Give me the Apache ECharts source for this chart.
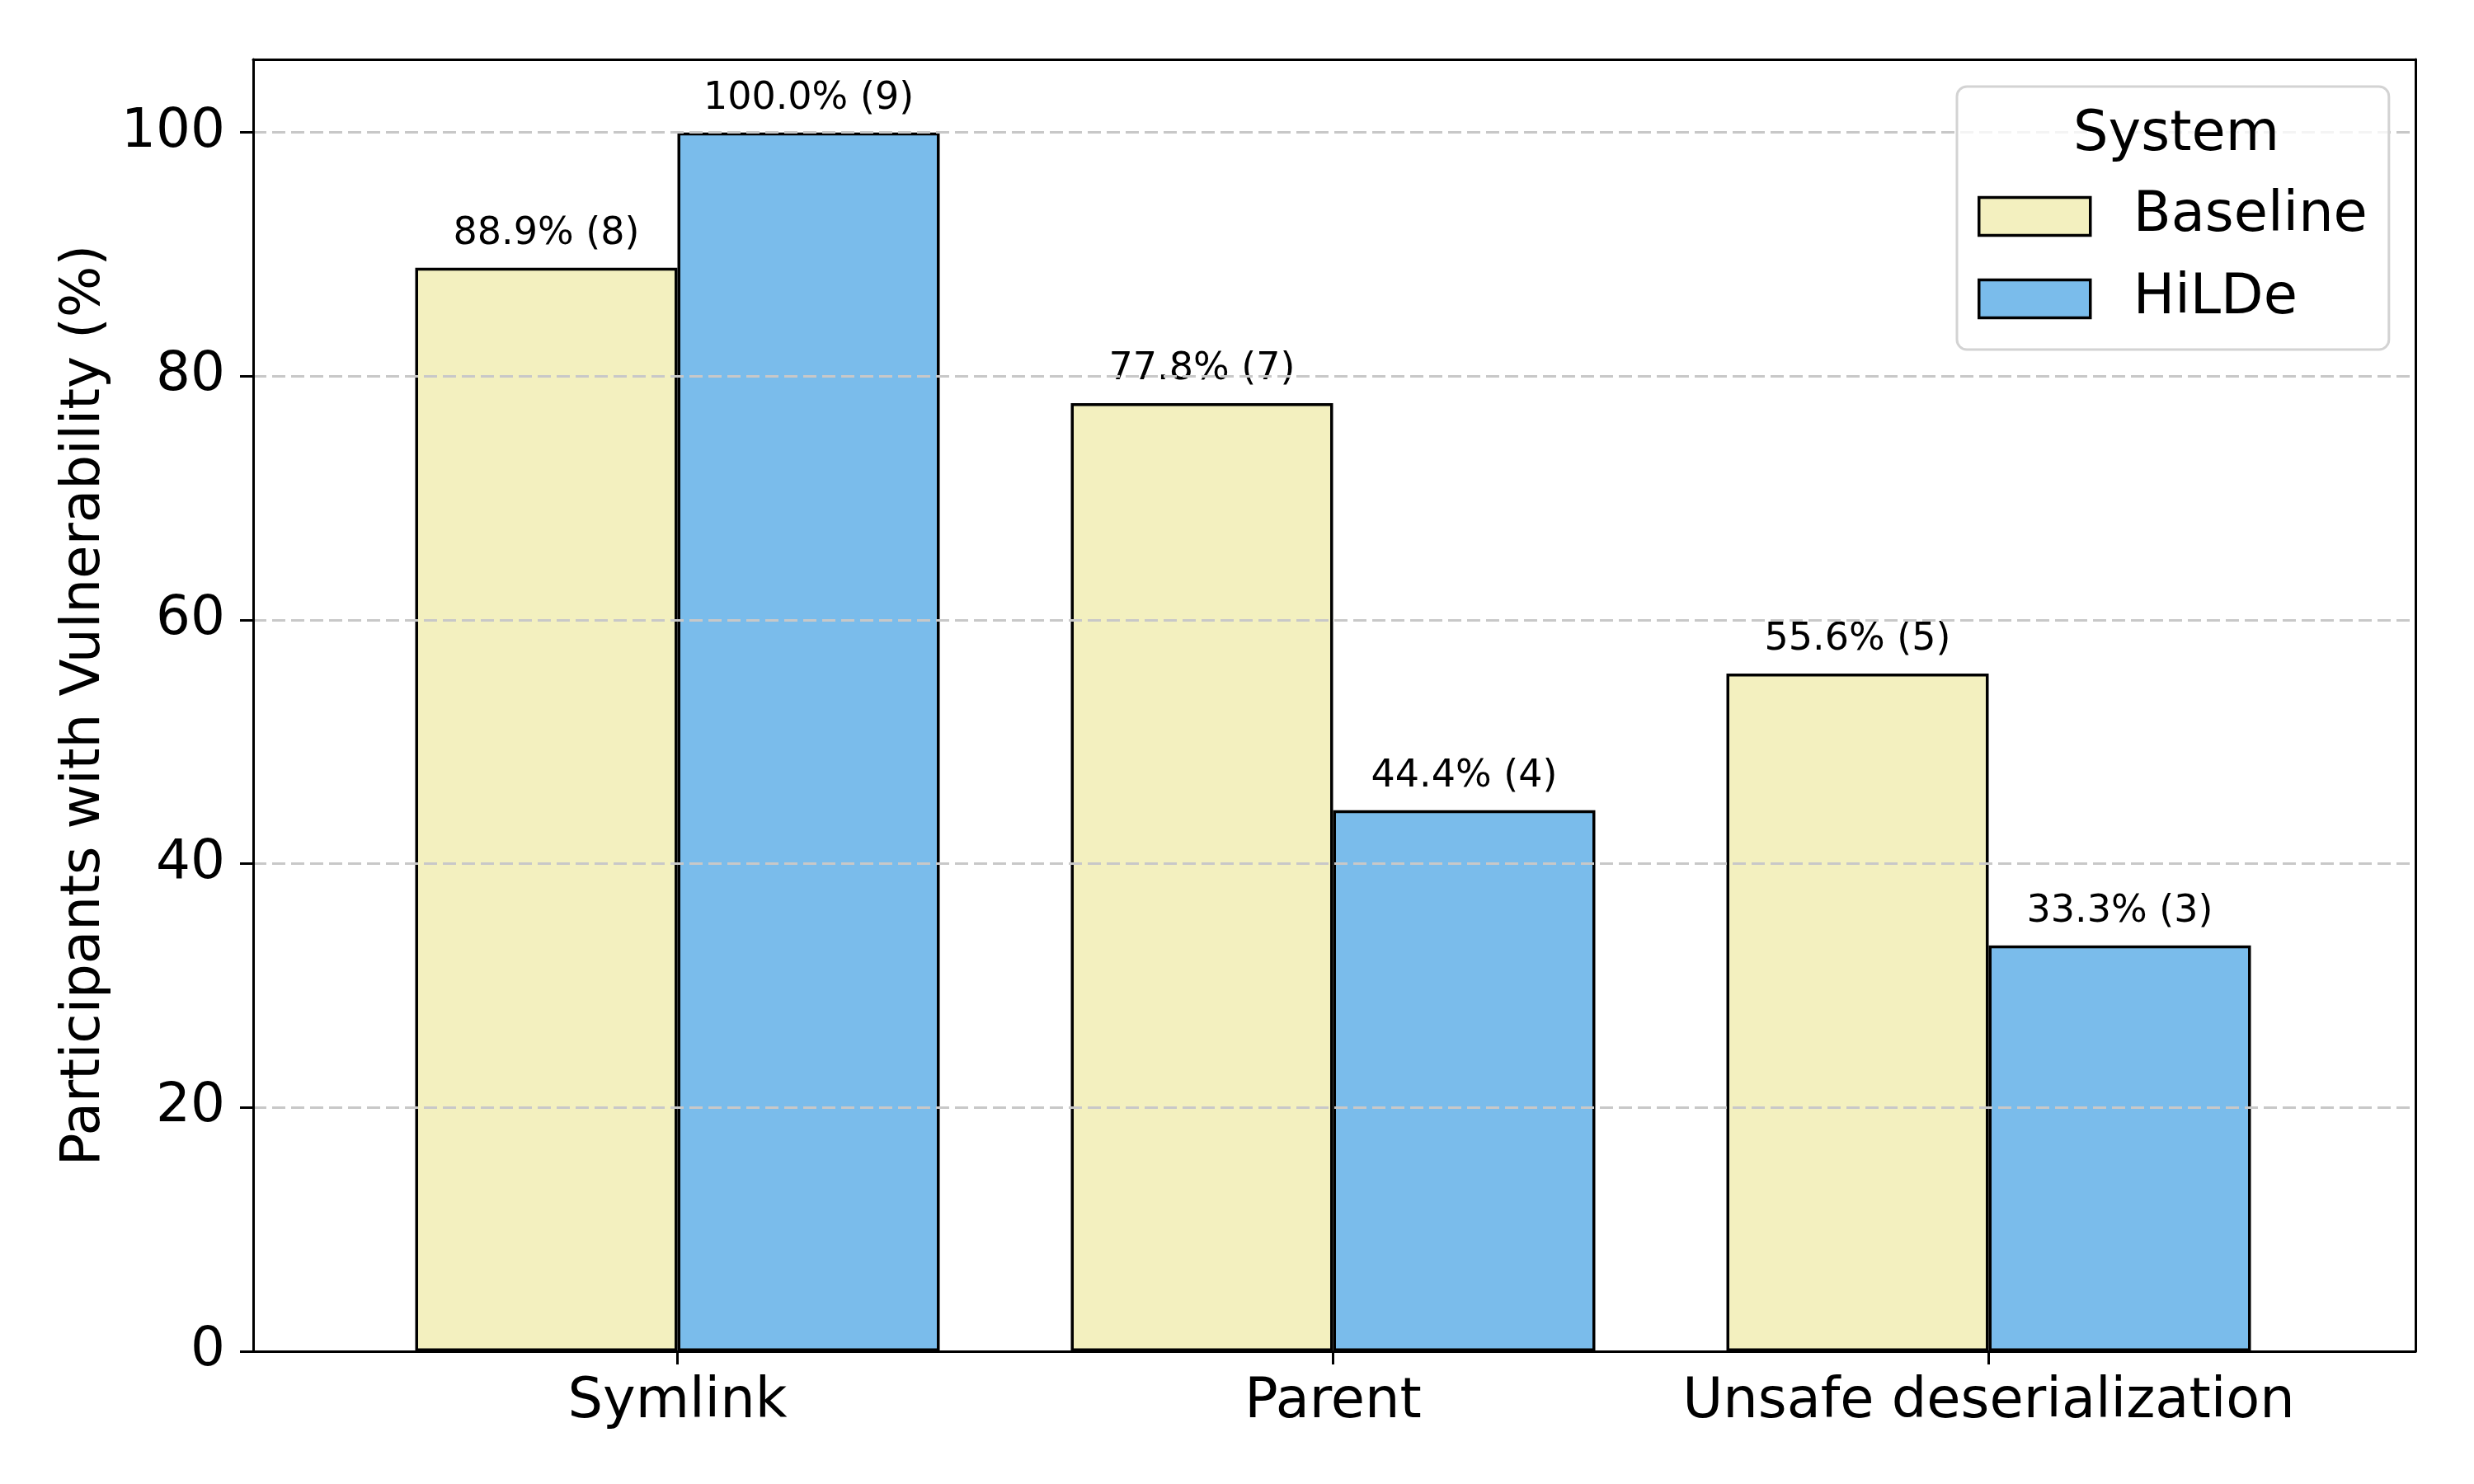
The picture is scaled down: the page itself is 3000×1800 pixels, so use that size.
<!DOCTYPE html>
<html>
<head>
<meta charset="utf-8">
<script src="https://cdn.jsdelivr.net/npm/echarts@6/dist/echarts.min.js"></script>
<style>
html,body{margin:0;padding:0;background:#fff;}
#chart{width:3000px;height:1800px;}
</style>
</head>
<body>
<div id="chart"></div>
<script>
const categories = ['Symlink', 'Parent', 'Unsafe deserialization'];
const seriesNames = ['Baseline', 'HiLDe'];
const baselinePct = [88.9, 77.8, 55.6];
const hildePct = [100.0, 44.4, 33.3];
const baselineCount = [8, 7, 5];
const hildeCount = [9, 4, 3];
const yTicks = [0, 20, 40, 60, 80, 100];

const FONT = 'DejaVu Sans';
const chart = echarts.init(document.getElementById('chart'), null, {renderer: 'canvas'});

function labelFor(counts) {
  return {
    show: true,
    position: 'top',
    distance: 18,
    fontFamily: FONT,
    fontSize: 46,
    color: '#000',
    formatter: p => p.value.toFixed(1) + '% (' + counts[p.dataIndex] + ')'
  };
}

const frameLine = {show: true, onZero: false, lineStyle: {color: '#000', width: 3}};
const off = {show: false};

const option = {
  backgroundColor: '#fff',
  animation: false,
  textStyle: {fontFamily: FONT},
  title: {
    text: 'System',
    left: 2634,
    top: 126,
    textAlign: 'center',
    z: 30,
    textStyle: {fontFamily: FONT, fontSize: 67, fontWeight: 'normal', color: '#000'}
  },
  legend: {
    data: seriesNames,
    orient: 'vertical',
    left: 2373,
    top: 105,
    padding: [124, 26, 28, 25],
    itemWidth: 135,
    itemHeight: 46,
    itemGap: 33,
    icon: 'rect',
    backgroundColor: 'rgba(255,255,255,0.8)',
    borderColor: '#d3d3d3',
    borderWidth: 3,
    borderRadius: 12,
    z: 25,
    itemStyle: {borderColor: '#000', borderWidth: 3.5},
    textStyle: {fontFamily: FONT, fontSize: 67, color: '#000', padding: [0, 0, 0, 47]}
  },
  grid: [
    {left: 307, top: 72, width: 2622, height: 1567},
    {left: 424, top: 72, width: 2385, height: 1567}
  ],
  xAxis: [
    {gridIndex: 0, type: 'value', min: 0, max: 1, position: 'bottom', axisLine: frameLine,
     axisTick: off, axisLabel: off, splitLine: off, z: 20},
    {gridIndex: 0, type: 'value', min: 0, max: 1, position: 'top', axisLine: frameLine,
     axisTick: off, axisLabel: off, splitLine: off, z: 20},
    {gridIndex: 1, type: 'category', data: categories, axisLine: off,
     axisTick: {show: true, alignWithLabel: true, length: 16, lineStyle: {color: '#000', width: 3}},
     axisLabel: {fontFamily: FONT, fontSize: 67, color: '#000', margin: 29, interval: 0},
     splitLine: off, z: 20}
  ],
  yAxis: [
    {gridIndex: 0, type: 'value', min: 0, max: 106, interval: 20, position: 'left',
     axisLine: frameLine,
     axisTick: {show: true, length: 16, customValues: yTicks, lineStyle: {color: '#000', width: 3}},
     axisLabel: {fontFamily: FONT, fontSize: 66, color: '#000', margin: 34, customValues: yTicks},
     splitLine: {show: true, lineStyle: {color: '#c8c8c8', width: 3, type: [16, 7]}},
     name: 'Participants with Vulnerability (%)',
     nameLocation: 'middle',
     nameGap: 170,
     nameTextStyle: {fontFamily: FONT, fontSize: 66, color: '#000'},
     z: 10},
    {gridIndex: 0, type: 'value', min: 0, max: 106, position: 'right', axisLine: frameLine,
     axisTick: off, axisLabel: off, splitLine: off, z: 20},
    {gridIndex: 1, type: 'value', min: 0, max: 106, show: false}
  ],
  series: [
    {name: seriesNames[0], type: 'bar', xAxisIndex: 2, yAxisIndex: 2, data: baselinePct,
     barWidth: 318, barGap: '0%',
     itemStyle: {color: '#F3F0BF', borderColor: '#000', borderWidth: 3.5},
     label: labelFor(baselineCount)},
    {name: seriesNames[1], type: 'bar', xAxisIndex: 2, yAxisIndex: 2, data: hildePct,
     barWidth: 318, barGap: '0%',
     itemStyle: {color: '#7ABCEB', borderColor: '#000', borderWidth: 3.5},
     label: labelFor(hildeCount)}
  ]
};
chart.setOption(option);
</script>
</body>
</html>
